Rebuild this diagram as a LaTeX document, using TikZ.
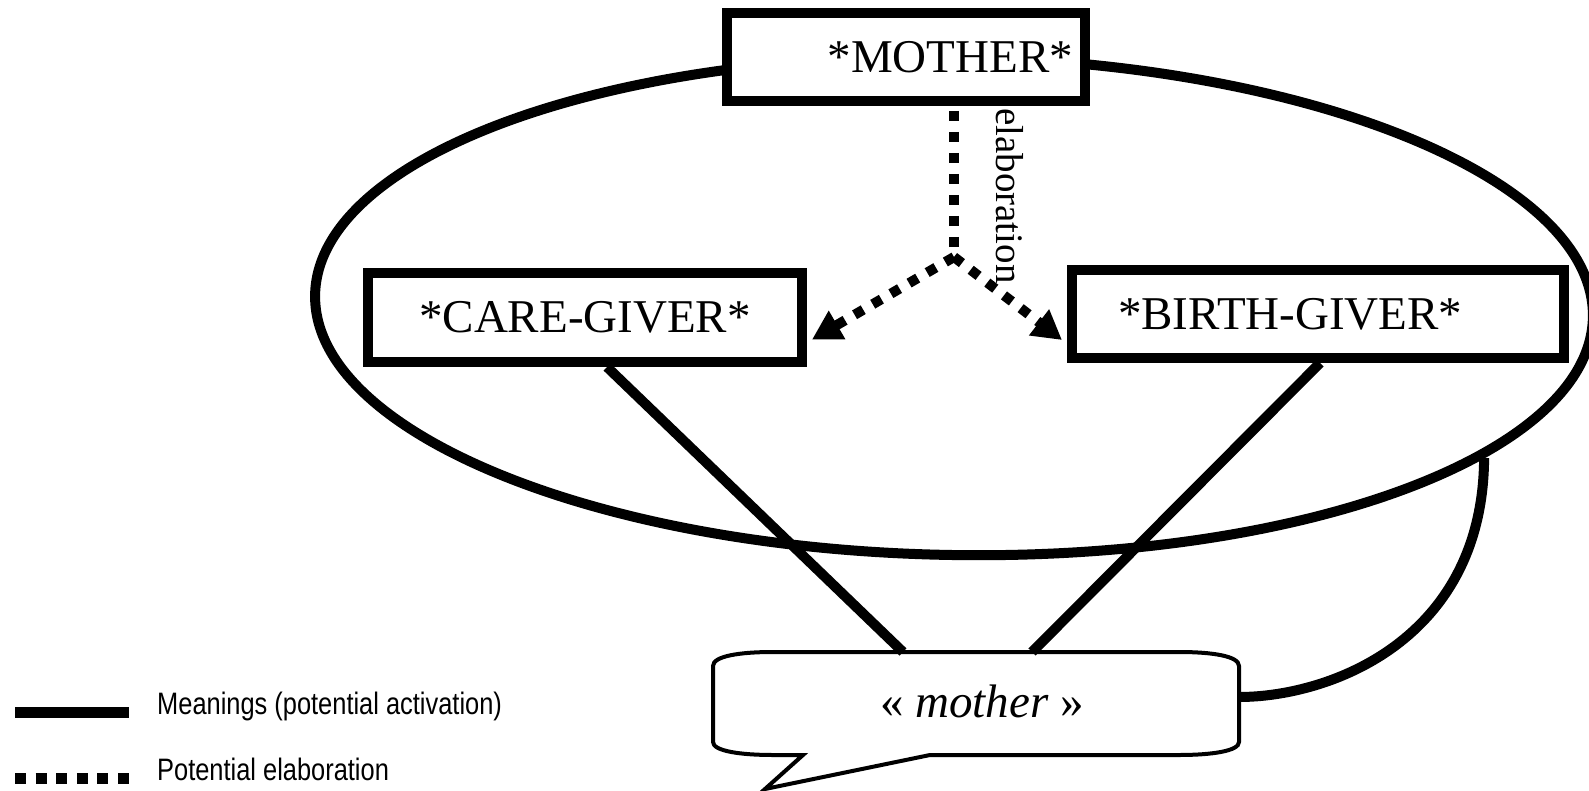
\documentclass[tikz,border=0pt]{standalone}
\usepackage{fontspec}
\setmainfont{Liberation Serif}
\newfontfamily\legendfont[FakeStretch=0.82]{Liberation Sans}
\usetikzlibrary{arrows.meta,shapes.geometric}
\pgfdeclarelayer{paper}
\pgfdeclarelayer{bg}
\pgfsetlayers{paper,bg,main}
\begin{document}
\begin{tikzpicture}[x=1pt,y=-1pt,
  box/.style={draw, line width=10pt, fill=white, inner sep=0pt, font=\fontsize{47}{56}\selectfont},
  meaning/.style={line width=10pt},
  elabline/.style={line width=10pt, dash pattern=on 10pt off 11pt},
  elab/.style={elabline, -{Triangle[length=29pt,width=31pt]}},
  frameline/.style={line width=10pt},
  legtext/.style={anchor=base west, inner sep=0pt, font=\legendfont\fontsize{31}{37}\selectfont}
]
\useasboundingbox (0,0) rectangle (1589,791);
\begin{pgfonlayer}{paper}
  \fill[white] (0,0) rectangle (1589,791);
\end{pgfonlayer}

% boxes
\node[box, minimum width=358pt, minimum height=88pt, text width=334pt, inner xsep=12pt, align=right] (mother) at (906,57) {*MOTHER*};
\node[box, minimum width=434pt, minimum height=89pt] (care) at (585,317.5) {*CARE-GIVER*};
\node[box, minimum width=492pt, minimum height=88pt, text width=400pt, inner xsep=46pt, align=left] (birth) at (1318,314) {*BIRTH-GIVER*};

% word in speech bubble
\node[inner sep=0pt, font=\fontsize{47}{56}\selectfont] (word) at (982,701) {«~\textit{mother}~»};
\coordinate (btl) at (903,652);
\coordinate (btr) at (1032,652);
\coordinate (bright) at (1239,697);
\coordinate (J) at (954,257);

% elaboration label
\node[rotate=-90, anchor=base west, inner sep=0pt, font=\fontsize{39}{47}\selectfont] (elabtext) at (996,108) {elaboration};

\begin{pgfonlayer}{bg}
  \node[draw, ellipse, frameline, minimum width=1278pt, minimum height=498pt, inner sep=0pt, rotate=-1] (frame) at (954,306) {};
  \draw[line width=4pt, fill=white, line join=miter]
    (713,666) .. controls (713,656) and (740,652) .. (773,652)
    -- (1179,652) .. controls (1212,652) and (1239,656) .. (1239,666)
    -- (bright) -- (1239,742) .. controls (1239,751) and (1212,755) .. (1179,755)
    -- (930,755) -- (765,789) -- (803,755) -- (773,755)
    .. controls (740,755) and (713,751) .. (713,742) -- cycle;
  \draw[meaning] ([xshift=22pt]care.south) -- (btl);
  \draw[meaning] ([xshift=2pt]birth.south) -- (btr);
  \draw[elabline] ([xshift=48pt,yshift=-5pt]mother.south) -- (J);
  \draw[elab] (J) -- ([xshift=5pt,yshift=-22pt]care.east);
  \draw[elab] (J) -- ([xshift=-5pt,yshift=-26pt]birth.west);
  \draw[frameline] (frame.-15) .. controls (1483,640) and (1330,697) .. (bright);
\end{pgfonlayer}

% legend
\coordinate (la) at (15,712);
\coordinate (lb) at (129,712);
\coordinate (lc) at (15,778);
\coordinate (ld) at (129,778);
\draw[line width=11pt] (la) -- (lb);
\draw[line width=11pt, dash pattern=on 11pt off 9.6pt] (lc) -- (ld);
\node[legtext] (leg1) at (157,714) {Meanings (potential activation)};
\node[legtext] (leg2) at (157,780) {Potential elaboration};
\end{tikzpicture}
\end{document}
